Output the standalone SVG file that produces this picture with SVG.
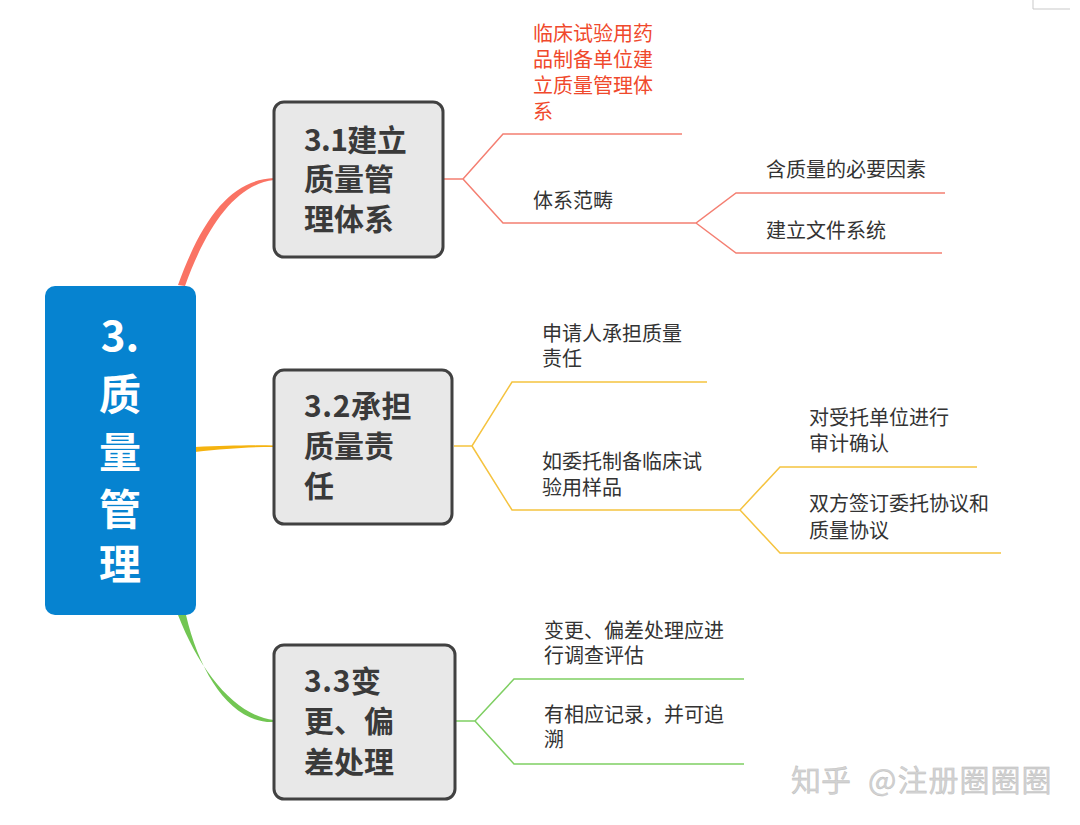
<svg xmlns="http://www.w3.org/2000/svg" width="1080" height="825" viewBox="0 0 1080 825">
<style>
text{font-family:"Noto Sans CJK SC","Noto Sans",sans-serif}
.sub rect{fill:#e8e8e8;stroke:#414141;stroke-width:3}
.sub text{font-size:30px;font-weight:700;fill:#3a3a3a}
.leaf{font-size:20px;fill:#333}
.root text{font-size:42px;font-weight:700;fill:#fff;text-anchor:middle}
.r{stroke:#f47f72}.y{stroke:#f5c33f}.g{stroke:#7fcf63}
#connectors path{fill:none;stroke-width:1.5}
#connectors path.t{stroke:none}
</style>
<rect width="1080" height="825" fill="#fff"/>
<path d="M1033 0V9H1070" fill="none" stroke="#c9c9c9"/>
<g id="connectors">
<path class="t" d="M178 285C203 216 232 180 274 178V180C238 184 208 222 185 286Z" style="fill:#fa7364"/>
<path class="t" d="M195 447C225 446 245 445 274 445.500V447C245 447 225 449 195 452Z" style="fill:#f5b30f"/>
<path class="t" d="M178 615C200 672 236 716 274 720V722C232 724 200 675 186 615Z" style="fill:#72c653"/>
<path class="r" d="M444 179H463L503 134H682M463 179L503 223H696L736 193H945M696 223L736 253H942"/>
<path class="y" d="M454 446H472L512 382H707M472 446L512 510H740L780 467H977M740 510L780 553H1001"/>
<path class="g" d="M456 721H475L514 679H744M475 721L514 764H744"/>
</g>
<g id="root" class="root"><rect x="45" y="286" width="151" height="329" rx="10" fill="#0683d0"/>
<text x="120" y="351">3.</text><text x="120" y="410">质</text><text x="120" y="468">量</text><text x="120" y="525">管</text><text x="120" y="580">理</text></g>
<g id="n31" class="sub"><rect x="274" y="102" width="169" height="155" rx="10"/>
<text x="304" y="151" letter-spacing="-.6">3.1建立</text><text x="304" y="190">质量管</text><text x="304" y="230">理体系</text></g>
<g id="n32" class="sub"><rect x="274" y="370" width="178" height="154" rx="10"/>
<text x="304" y="417" letter-spacing=".6">3.2承担</text><text x="304" y="457">质量责</text><text x="304" y="497">任</text></g>
<g id="n33" class="sub"><rect x="274" y="645" width="181" height="154" rx="10"/>
<text x="304" y="692" letter-spacing=".6">3.3变</text><text x="304" y="732">更、偏</text><text x="304" y="773">差处理</text></g>
<g id="l311"><text class="leaf" style="fill:#f0492c" x="533" y="41">临床试验用药</text><text class="leaf" style="fill:#f0492c" x="533" y="67">品制备单位建</text><text class="leaf" style="fill:#f0492c" x="533" y="93">立质量管理体</text><text class="leaf" style="fill:#f0492c" x="533" y="119">系</text></g>
<g id="l312"><text class="leaf" x="533" y="208">体系范畴</text></g>
<g id="l313"><text class="leaf" x="766" y="177">含质量的必要因素</text></g>
<g id="l314"><text class="leaf" x="766" y="238">建立文件系统</text></g>
<g id="l321"><text class="leaf" x="542" y="341">申请人承担质量</text><text class="leaf" x="542" y="366">责任</text></g>
<g id="l322"><text class="leaf" x="542" y="469">如委托制备临床试</text><text class="leaf" x="542" y="495">验用样品</text></g>
<g id="l323"><text class="leaf" x="809" y="425">对受托单位进行</text><text class="leaf" x="809" y="451">审计确认</text></g>
<g id="l324"><text class="leaf" x="809" y="511">双方签订委托协议和</text><text class="leaf" x="809" y="538">质量协议</text></g>
<g id="l331"><text class="leaf" x="544" y="638">变更、偏差处理应进</text><text class="leaf" x="544" y="663">行调查评估</text></g>
<g id="l332"><text class="leaf" x="544" y="722">有相应记录，并可追</text><text class="leaf" x="544" y="747">溯</text></g>
<g fill="#d2d2d2" stroke="#bbb" stroke-width=".4" font-size="30"><text x="791" y="791">知乎</text><text x="868" y="791" letter-spacing="1">@注册圈圈圈</text></g>
</svg>
